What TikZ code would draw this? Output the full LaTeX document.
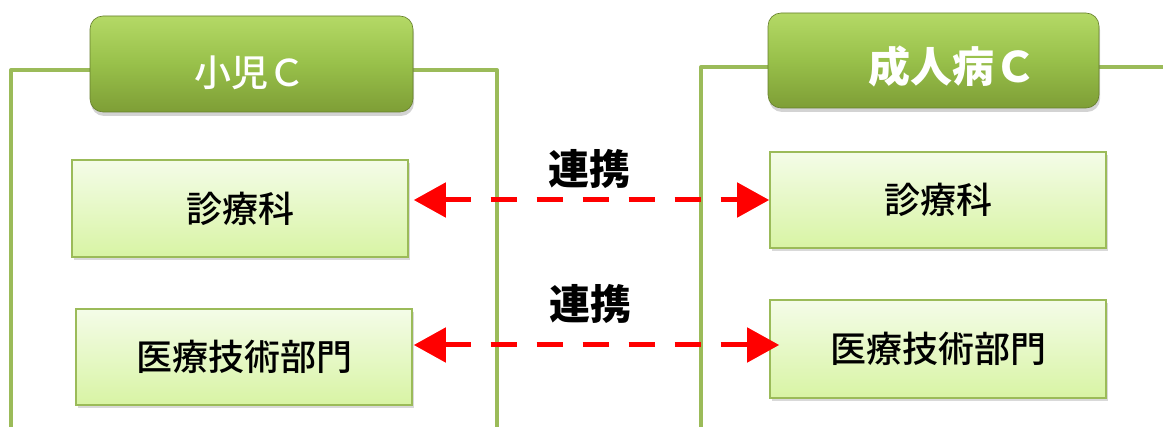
\documentclass[tikz,border=0pt]{standalone}
\usepackage{fontspec}
\newfontfamily\jp{Noto Sans CJK JP}
\newfontfamily\jpm{Noto Sans CJK JP Medium}
\usetikzlibrary{arrows.meta,shadows,calc}
\definecolor{frame}{HTML}{9BBB59}
\definecolor{titletop}{HTML}{B4D966}
\definecolor{titlemid}{HTML}{98C04A}
\definecolor{titlebot}{HTML}{7E9E36}
\definecolor{boxtop}{HTML}{F4FCE8}
\definecolor{boxbot}{HTML}{D8F4A4}
\definecolor{linkred}{HTML}{FF0000}
\begin{document}
\begin{tikzpicture}[x=1pt,y=-1pt,
  container/.style={draw=frame,line width=4pt,line join=round},
  titlebox/.style={draw=titlebot!80!black,line width=0.6pt,rounded corners=13pt,
    top color=titletop,bottom color=titlebot,middle color=titlemid,
    drop shadow={opacity=0.35,shadow xshift=1pt,shadow yshift=-4pt}},
  titletext/.style={text=white,font=\jpm\fontsize{37}{37}\selectfont},
  unitbox/.style={draw=frame,line width=1.6pt,top color=boxtop,bottom color=boxbot,
    font=\jpm\fontsize{36}{36}\selectfont,
    drop shadow={opacity=0.3,shadow xshift=2pt,shadow yshift=-3pt}},
  link/.style={draw=linkred,line width=5pt,dash pattern=on 26pt off 20pt,
    {Triangle[length=32pt,width=34pt]}-{Triangle[length=32pt,width=34pt]}},
  linklabel/.style={font=\jp\bfseries\fontsize{41}{41}\selectfont}]
\useasboundingbox (0,0) rectangle (1163,427);
% containers
\draw[container] (11,430) -- (11,70) -- (497,70) -- (497,430);
\draw[container] (701,430) -- (701,67) -- (1170,67);
% title boxes
\node[titlebox,minimum width=323pt,minimum height=96pt] (lt) at (251.5,64) {};
\node[titletext] (ltt) at (250,73) {小児Ｃ};
\node[titlebox,minimum width=331pt,minimum height=95pt] (rt) at (933.5,60.5) {};
\node[titletext,font=\jp\bfseries\fontsize{42}{42}\selectfont] (rtt) at (952,67) {成人病Ｃ};
% unit boxes
\node[unitbox,minimum width=336pt,minimum height=97pt] (ld) at (240,208.5) {診療科};
\node[unitbox,minimum width=336pt,minimum height=96pt] (lm) at (244,357) {医療技術部門};
\node[unitbox,minimum width=336pt,minimum height=96pt] (rd) at (938,200) {診療科};
\node[unitbox,minimum width=336pt,minimum height=98pt] (rm) at (938,349) {医療技術部門};
% links
\coordinate (a1l) at ($(ld.east)+(5,-8.5)$);
\draw[link] (a1l) -- (rd.west);
\coordinate (a2l) at ($(lm.east)+(1,-12)$);
\coordinate (a2r) at ($(rm.west)+(10,-4)$);
\draw[link] (a2l) -- (a2r);
\node[linklabel] (l1) at (589,169) {連携};
\node[linklabel] (l2) at (590,304) {連携};
\end{tikzpicture}
\end{document}
